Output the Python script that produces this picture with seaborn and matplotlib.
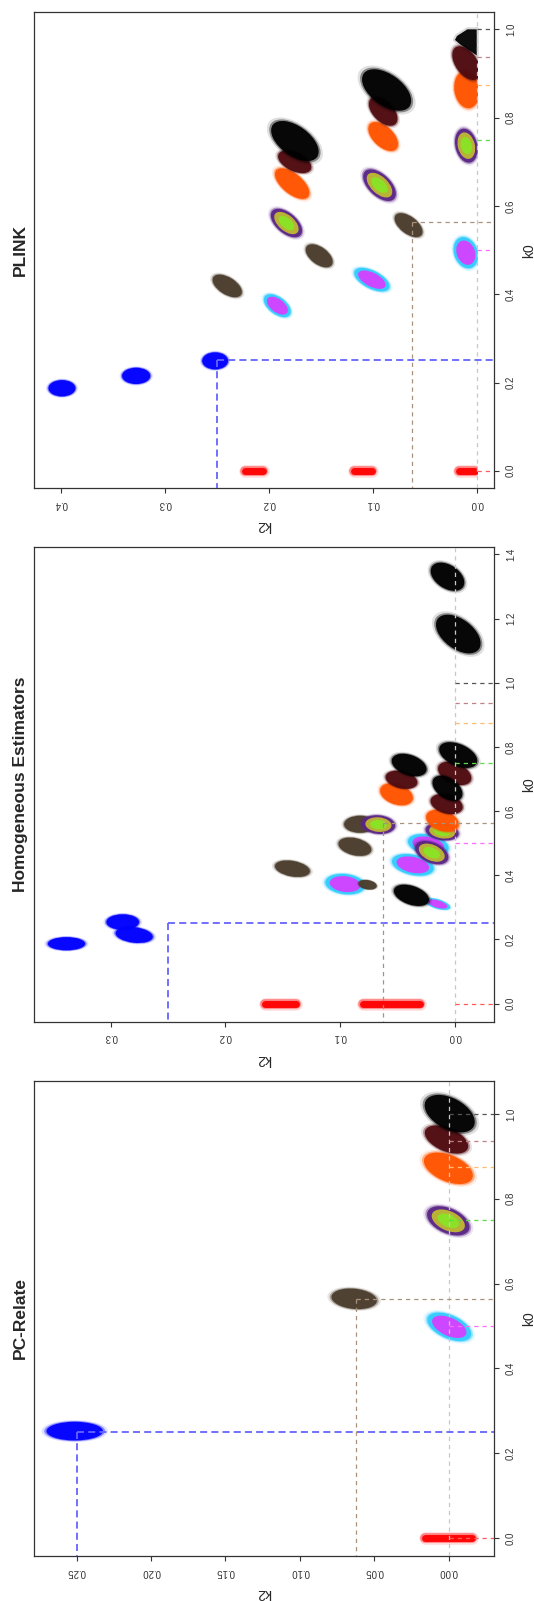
import matplotlib
matplotlib.use('Agg')
import numpy as np
import matplotlib.pyplot as plt
import seaborn as sns
from matplotlib.patches import Rectangle
from matplotlib.path import Path
from matplotlib.transforms import Affine2D
from matplotlib.ticker import FormatStrFormatter

sns.set_style('white')
plt.rcParams['font.family'] = ['Liberation Sans', 'DejaVu Sans']

# expected (k0, k2) of each simulated relationship
rel = ['PO', 'FS', 'HS', 'DFC', 'FC', 'HFC', 'SC', 'UN']
exp_k0 = [0.0, 0.25, 0.5, 0.5625, 0.75, 0.875, 0.9375, 1.0]
exp_k2 = [0.0, 0.25, 0.0, 0.0625, 0.0, 0.0, 0.0, 0.0]

# estimate clouds: relationship, k0 (start, end), k2 (start, end)
# of the long axis of each cloud
pc_rel = ['PO', 'FS', 'HS', 'DFC', 'FC', 'HFC', 'SC', 'UN']
pc_k0 = [(0, 0), (0.252, 0.252), (0.5094, 0.4866), (0.567, 0.561),
         (0.7578, 0.7382), (0.8835, 0.8604), (0.9505, 0.9292), (1.0138, 0.9878)]
pc_k2 = [(0.016, -0.016), (0.264, 0.2386), (0.0069, -0.0077), (0.072, 0.055),
         (0.0065, -0.006), (0.0081, -0.0077), (0.0085, -0.0056), (0.0062, -0.0076)]

he_rel = ['PO', 'PO', 'FS', 'FS', 'FS', 'HS', 'HS', 'HS', 'HS', 'DFC', 'DFC', 'DFC', 'DFC',
          'FC', 'FC', 'FC', 'HFC', 'HFC', 'SC', 'SC', 'SC', 'UN', 'UN', 'UN', 'UN', 'UN', 'UN']
he_k0 = [(0, 0), (0, 0), (0.1867, 0.1867), (0.2542, 0.2542), (0.218, 0.21),
         (0.502, 0.488), (0.44, 0.425), (0.376, 0.369), (0.318, 0.303),
         (0.559, 0.559), (0.495, 0.483), (0.426, 0.415), (0.373, 0.368),
         (0.56, 0.556), (0.54, 0.532), (0.48, 0.461),
         (0.6595, 0.6455), (0.577, 0.563),
         (0.7031, 0.6922), (0.727, 0.708), (0.628, 0.616),
         (0.7866, 0.7629), (0.752, 0.7352), (0.6829, 0.6595), (0.3467, 0.3284),
         (1.3424, 1.3187), (1.172, 1.1318)]
he_k2 = [(0.030, 0.0797), (0.138, 0.165), (0.349, 0.328), (0.297, 0.282), (0.289, 0.27),
         (0.032, 0.014), (0.046, 0.027), (0.104, 0.087), (0.022, 0.008),
         (0.089, 0.076), (0.094, 0.080), (0.150, 0.133), (0.080, 0.072),
         (0.073, 0.060), (0.018, 0.004), (0.026, 0.014),
         (0.0564, 0.0451), (0.0163, 0.005),
         (0.0529, 0.0399), (0.006, -0.006), (0.013, 0.001),
         (0.0044, -0.0106), (0.0463, 0.0331), (0.0111, 0.0015), (0.0451, 0.0303),
         (0.0113, 0.0012), (0.0044, -0.0107)]

plink_rel = ['PO', 'PO', 'PO', 'FS', 'FS', 'FS', 'HS', 'HS', 'HS', 'DFC', 'DFC', 'DFC',
             'FC', 'FC', 'FC', 'HFC', 'HFC', 'HFC', 'SC', 'SC', 'SC', 'UN', 'UN']
plink_k0 = [(0, 0), (0, 0), (0, 0), (0.249, 0.249), (0.215, 0.215), (0.187, 0.187),
            (0.5035, 0.4847), (0.4435, 0.4224), (0.3835, 0.3647),
            (0.5671, 0.5459), (0.4965, 0.4776), (0.4282, 0.4094),
            (0.7506, 0.7224), (0.6612, 0.6329), (0.5737, 0.5488),
            (0.8776, 0.8494), (0.7697, 0.7448), (0.6659, 0.6353),
            (0.9388, 0.9082), (0.8263, 0.8021), (0.7082, 0.6918),
            (0.8793, 0.8458), (0.7638, 0.7302)]
plink_k2 = [(0.002, 0.017), (0.101, 0.118), (0.206, 0.223), (0.2475, 0.256), (0.3335, 0.322),
            (0.4043, 0.394), (0.012, 0.009), (0.1098, 0.0921), (0.1973, 0.1865),
            (0.0715, 0.0597), (0.157, 0.1462), (0.2465, 0.2337),
            (0.0115, 0.0086), (0.100, 0.0872), (0.1894, 0.1769),
            (0.0105, 0.0086), (0.0956, 0.0845), (0.1855, 0.1698),
            (0.0145, 0.0056), (0.0951, 0.085), (0.1826, 0.1678),
            (0.0966, 0.0769), (0.1848, 0.1652)]
# unrelated pairs piled against the k0 <= 1, k2 >= 0 bounds in PLINK
plink_wedge_k0 = [1.0, 1.0, 0.985, 0.976, 0.966, 0.941]
plink_wedge_k2 = [0.0, 0.009, 0.019, 0.021, 0.016, 0.0]

# cloud thickness (pt)
pc_spread = [6, 12, 15, 13, 16, 17, 15, 20]
he_spread = [6, 6, 8.5, 10, 10, 13, 13, 13, 6, 11, 11, 10, 6, 12, 11, 13,
             13, 13, 11, 13, 12, 14, 13, 13, 12, 15, 19]
plink_spread = [6, 6, 6, 11, 10.5, 10.5, 15, 11.5, 11, 11, 11, 11, 14, 14, 13,
                16, 13, 13, 14, 13, 12, 20, 19]

cloud_cols = {'PO': ['#ff0000'], 'FS': ['#0000ff'], 'HS': ['#33ccff', '#ff1aff'],
              'DFC': ['#4b3d2c'], 'FC': ['#5b2585', '#d9e01c', '#7fee22'],
              'HFC': ['#ff5500'], 'SC': ['#4f0b10'], 'UN': ['#000000']}
line_cols = {'PO': '#ff5a5a', 'FS': '#6464ff', 'HS': '#ff6aff', 'DFC': '#a8927d',
             'FC': '#5fd84a', 'HFC': '#ffbb70', 'SC': '#c08282', 'UN': '#555555'}

GROW = 1.12  # drawn cloud size relative to the spread values


def cloud(ax, g, k0s, k2s, w, clip=None):
    cols = cloud_cols[g]
    if g == 'PO':
        # k0 is pinned at 0, so these are streaks along k2
        for lw, a in [(w + 3, 0.15), (w + 1, 0.4), (w - 1, 0.95)]:
            sns.lineplot(x=list(k2s), y=list(k0s), sort=False, estimator=None, color=cols[0],
                         lw=lw, alpha=a, solid_capstyle='round', ax=ax)
            if clip is not None:
                ax.lines[-1].set_clip_path(clip)
        return
    w = w * GROW
    # oval marker along the cloud's long axis, sized in points
    p1, p2 = ax.transData.transform([(k2s[0], k0s[0]), (k2s[1], k0s[1])])
    dx, dy = (p2 - p1) * 72 / ax.figure.dpi
    length = np.hypot(dx, dy) + w
    ang = np.degrees(np.arctan2(dy, dx))
    shape = Affine2D().scale(length / 2, w / 2).rotate_deg(ang).transform_path(Path.unit_circle())
    half = np.abs(shape.vertices).max()
    xc, yc = np.mean(k2s), np.mean(k0s)
    layers = [(cols[0], 1.18, 0.12), (cols[0], 1.08, 0.4), (cols[0], 1.0, 0.95)]
    if len(cols) > 1:
        layers.append((cols[1], 0.78, 0.75))
    if len(cols) > 2:
        layers.append((cols[2], 0.5, 0.8))
    for c, f, a in layers:
        sns.scatterplot(x=[xc], y=[yc], marker=shape, s=(2 * half * f) ** 2, color=c,
                        alpha=a, linewidth=0, edgecolor='none', ax=ax)
        if clip is not None:
            ax.collections[-1].set_clip_path(clip)


panels = [
    dict(title='PLINK', rect=[0.0638, 0.6949, 0.8611, 0.2974], rel=plink_rel,
         k0=plink_k0, k2=plink_k2, w=plink_spread, xlim=(0.426, -0.0165),
         ylim=(-0.04, 1.0385), xt=[0, 0.1, 0.2, 0.3, 0.4], yt=[0, 0.2, 0.4, 0.6, 0.8, 1.0],
         fmt='%.1f', bound=True),
    dict(title='Homogeneous Estimators', rect=[0.0638, 0.3617, 0.8611, 0.2968], rel=he_rel,
         k0=he_k0, k2=he_k2, w=he_spread, xlim=(0.3668, -0.0342),
         ylim=(-0.057, 1.424), xt=[0, 0.1, 0.2, 0.3],
         yt=[0, 0.2, 0.4, 0.6, 0.8, 1.0, 1.2, 1.4], fmt='%.1f', bound=False),
    dict(title='PC-Relate', rect=[0.0638, 0.0280, 0.8611, 0.2971], rel=pc_rel,
         k0=pc_k0, k2=pc_k2, w=pc_spread, xlim=(0.2786, -0.0304),
         ylim=(-0.043, 1.079), xt=[0, 0.05, 0.1, 0.15, 0.2, 0.25],
         yt=[0, 0.2, 0.4, 0.6, 0.8, 1.0], fmt='%.2f', bound=False),
]

fig = plt.figure(figsize=(5.34, 16.01), dpi=100)

for p in panels:
    ax = fig.add_axes(p['rect'])
    ax.set_xlim(p['xlim'])
    ax.set_ylim(p['ylim'])
    clip = None
    if p['bound']:
        clip = Rectangle((-0.0012, -1), 2, 2.0025, transform=ax.transData)
    for r in rel:
        for g, k0s, k2s, w in zip(p['rel'], p['k0'], p['k2'], p['w']):
            if g == r:
                cloud(ax, g, k0s, k2s, w, clip)
        if r == 'UN' and p['bound']:
            ax.fill(plink_wedge_k2, plink_wedge_k0, color='black', alpha=0.95, lw=0)
            ax.plot(plink_wedge_k2 + plink_wedge_k2[:1], plink_wedge_k0 + plink_wedge_k0[:1],
                    color='black', alpha=0.15, lw=3, solid_joinstyle='round')
    ax.set_xlim(p['xlim'])
    ax.set_ylim(p['ylim'])
    x_end, y_end = p['xlim'][1], p['ylim'][0]

    # reference lines through the expected coefficients
    ax.axvline(0, color='#c8c8c8', lw=0.9, dashes=(3.4, 3.2), zorder=5)
    for r, e0, e2 in zip(rel, exp_k0, exp_k2):
        wd = 1.3 if r == 'FS' else 0.9
        ds = (3.9, 2.3) if r == 'FS' else (3.4, 3.2)
        ax.plot([e2, x_end], [e0, e0], color=line_cols[r], lw=wd, dashes=ds, zorder=6)
        if e2 > 0:
            ax.plot([e2, e2], [e0, y_end], color=line_cols[r], lw=wd, dashes=ds, zorder=6)

    ax.set_xticks(p['xt'])
    ax.set_yticks(p['yt'])
    ax.xaxis.set_major_formatter(FormatStrFormatter(p['fmt']))
    ax.yaxis.set_major_formatter(FormatStrFormatter('%.1f'))
    ax.xaxis.tick_bottom()
    ax.yaxis.tick_right()
    ax.tick_params(axis='both', direction='out', length=3.6, width=0.8, color='#333333',
                   labelsize=7, labelcolor='#333333')
    ax.tick_params(axis='x', labelrotation=180, pad=4)
    ax.tick_params(axis='y', labelrotation=90, pad=5)
    plt.setp(ax.get_yticklabels(), va='center')

    for s in ax.spines.values():
        s.set_visible(True)
        s.set_color('#333333')
        s.set_linewidth(0.9)

    ax.set_xlabel('k2', fontsize=10, rotation=180)
    ax.xaxis.label.set_va('center')
    ax.xaxis.set_label_coords(0.5, -0.077)
    ax.yaxis.set_label_position('right')
    ax.set_ylabel('k0', fontsize=10, rotation=90)
    ax.yaxis.label.set_va('center')
    ax.yaxis.label.set_ha('center')
    ax.yaxis.set_label_coords(1.0763, 0.5)

    ax.text(-0.0304, 0.5, p['title'], transform=ax.transAxes, rotation=90,
            fontsize=12.5, fontweight='bold', ha='center', va='center')

fig.savefig('out.png', dpi=100)
